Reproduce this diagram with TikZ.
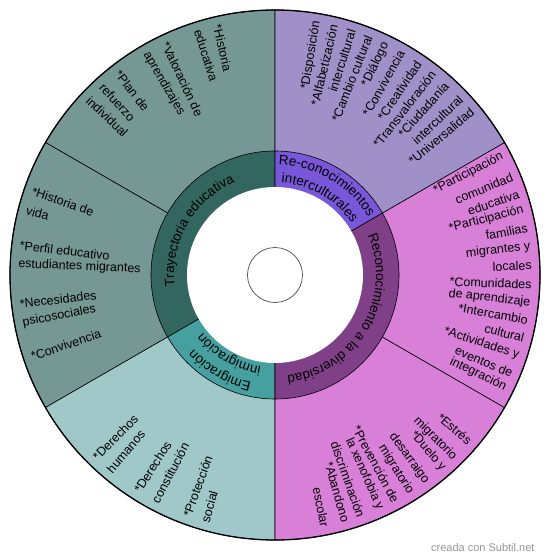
\documentclass[tikz,border=0pt]{standalone}
\usepackage{fontspec}
\setmainfont{Liberation Sans}
\usetikzlibrary{decorations.text}
\definecolor{trayout}{RGB}{118,152,148}
\definecolor{trayin}{RGB}{51,102,94}
\definecolor{emigout}{RGB}{160,200,200}
\definecolor{emigin}{RGB}{70,160,160}
\definecolor{divout}{RGB}{216,128,216}
\definecolor{divin}{RGB}{128,64,136}
\definecolor{intout}{RGB}{160,144,200}
\definecolor{intin}{RGB}{120,88,216}
\definecolor{markgray}{RGB}{150,150,150}

\begin{document}
\begin{tikzpicture}[x=1pt, y=1pt,
  sector/.style={draw=black, line width=0.6pt},
  outl/.style={anchor=west, inner sep=0pt, rotate=#1+180,
               font=\fontsize{12.5}{14}\selectfont},
  outr/.style={anchor=east, inner sep=0pt, rotate=#1,
               font=\fontsize{12.5}{14}\selectfont},
  ringtxt/.style={decorate, decoration={text along path, text align=center,
                  text={|\fontsize{13.5}{16}\selectfont|#1}}}
]

% === canvas ==================================================================
\fill[white] (-275,-285) rectangle (275,275);
\useasboundingbox (-275,-285) rectangle (275,275);

% === outer ring ==============================================================
\draw[sector, fill=trayout] (0,0) -- (90:265)  arc[start angle=90,  end angle=150, radius=265] -- cycle;
\draw[sector, fill=trayout] (0,0) -- (150:265) arc[start angle=150, end angle=210, radius=265] -- cycle;
\draw[sector, fill=emigout] (0,0) -- (210:265) arc[start angle=210, end angle=270, radius=265] -- cycle;
\draw[sector, fill=divout]  (0,0) -- (-90:265) arc[start angle=-90, end angle=-30, radius=265] -- cycle;
\draw[sector, fill=divout]  (0,0) -- (-30:265) arc[start angle=-30, end angle=30,  radius=265] -- cycle;
\draw[sector, fill=intout]  (0,0) -- (30:265)  arc[start angle=30,  end angle=90,  radius=265] -- cycle;
\draw[line width=1.3pt] (0,0) circle (265);

% === inner ring ==============================================================
\draw[sector, fill=trayin] (0,0) -- (90:124)  arc[start angle=90,  end angle=210, radius=124] -- cycle;
\draw[sector, fill=emigin] (0,0) -- (210:124) arc[start angle=210, end angle=270, radius=124] -- cycle;
\draw[sector, fill=divin]  (0,0) -- (-90:124) arc[start angle=-90, end angle=30,  radius=124] -- cycle;
\draw[sector, fill=intin]  (0,0) -- (30:124)  arc[start angle=30,  end angle=90,  radius=124] -- cycle;
\fill[white] (0,0) circle (88);
\draw[draw=black!70, line width=0.7pt, fill=white] (0,0) circle (27.5);

% === ring labels =============================================================
\path[ringtxt={Trayectoria educativa}]          (210:101) arc[start angle=210, end angle=90,  radius=101];
\path[ringtxt={Re-conocimientos}]               (90:110)  arc[start angle=90,  end angle=30,  radius=110];
\path[ringtxt={interculturales}]                (90:92.5) arc[start angle=90,  end angle=30,  radius=92.5];
\path[ringtxt={Reconocimiento a la diversidad}] (30:101)  arc[start angle=30,  end angle=-90, radius=101];
\path[ringtxt={Emigración}]                     (270:110) arc[start angle=270, end angle=210, radius=110];
\path[ringtxt={inmigración}]                    (270:92.5) arc[start angle=270, end angle=210, radius=92.5];

% === Trayectoria educativa, upper sector =====================================
\node[outl=103.0] (A1) at (103.0:257) {*Historia};
\node[outl=107.4] (A2) at (107.4:257) {educativa};
\node[outl=115.3] (A3) at (115.3:257) {*Valoración de};
\node[outl=120.1] (A4) at (120.1:257) {aprendizajes};
\node[outl=127.8] (A5) at (127.8:257) {*Plan de};
\node[outl=132.4] (A6) at (132.4:257) {refuerzo};
\node[outl=136.7] (A7) at (136.7:257) {individual};

% === Trayectoria educativa, lower sector =====================================
\node[outl=160.9] (B1) at (160.9:257) {*Historia de};
\node[outl=165.4] (B2) at (165.4:257) {vida};
\node[outl=173.4] (B3) at (173.4:257) {*Perfil educativo};
\node[outl=177.6] (B4) at (177.6:257) {estudiantes migrantes};
\node[outl=186.4] (B5) at (186.4:257) {*Necesidades};
\node[outl=190.8] (B6) at (190.8:257) {psicosociales};
\node[outl=198.5] (B7) at (198.5:257) {*Convivencia};

% === Emigracion inmigracion ==================================================
\node[outl=225.5] (C1) at (225.5:257) {*Derechos};
\node[outl=229.8] (C2) at (229.8:257) {humanos};
\node[outl=237.5] (C3) at (237.5:257) {*Derechos};
\node[outl=242.1] (C4) at (242.1:257) {constitución};
\node[outl=249.9] (C5) at (249.9:257) {*Protección};
\node[outl=254.2] (C6) at (254.2:257) {social};

% === Reconocimiento a la diversidad, lower sector ============================
\node[outr=-40.6] (D1)  at (-40.6:257) {*Estrés};
\node[outr=-45.6] (D2)  at (-45.6:257) {migratorio};
\node[outr=-49.0] (D3)  at (-49.0:257) {*Duelo y};
\node[outr=-53.8] (D4)  at (-53.8:257) {desarraigo};
\node[outr=-58.1] (D5)  at (-58.1:257) {migratorio};
\node[outr=-61.9] (D6)  at (-61.9:257) {*Prevención de};
\node[outr=-65.8] (D7)  at (-65.8:257) {la xenofobia y};
\node[outr=-70.4] (D8)  at (-70.4:257) {discriminación};
\node[outr=-74.0] (D9)  at (-74.0:257) {*Abandono};
\node[outr=-78.8] (D10) at (-78.8:257) {escolar};

% === Reconocimiento a la diversidad, upper sector ============================
\node[outr=27.7]  (E1)  at (27.7:257)  {*Participación};
\node[outr=22.5]  (E2)  at (22.5:257)  {comunidad};
\node[outr=18.3]  (E3)  at (18.3:257)  {educativa};
\node[outr=14.8]  (E4)  at (14.8:257)  {*Participación};
\node[outr=10.6]  (E5)  at (10.6:257)  {familias};
\node[outr=6.3]   (E6)  at (6.3:257)   {migrantes y};
\node[outr=2.2]   (E7)  at (2.2:257)   {locales};
\node[outr=-2.1]  (E8)  at (-2.1:257)  {*Comunidades};
\node[outr=-6.2]  (E9)  at (-6.2:257)  {de aprendizaje};
\node[outr=-10.1] (E10) at (-10.1:257) {*Intercambio};
\node[outr=-14.2] (E11) at (-14.2:257) {cultural};
\node[outr=-18.3] (E12) at (-18.3:257) {*Actividades y};
\node[outr=-22.5] (E13) at (-22.5:257) {eventos de};
\node[outr=-26.1] (E14) at (-26.1:257) {integración};

% === Re-conocimientos interculturales ========================================
\node[outr=80.7] (F1)  at (80.7:257) {*Disposición};
\node[outr=76.8] (F2)  at (76.8:257) {*Alfabetización};
\node[outr=72.6] (F3)  at (72.6:257) {intercultural};
\node[outr=68.6] (F4)  at (68.6:257) {*Cambio cultural};
\node[outr=64.5] (F5)  at (64.5:257) {*Diálogo};
\node[outr=60.5] (F6)  at (60.5:257) {*Convivencia};
\node[outr=56.0] (F7)  at (56.0:257) {*Creatividad};
\node[outr=52.0] (F8)  at (52.0:257) {*Transvaloración};
\node[outr=48.1] (F9)  at (48.1:257) {*Ciudadanía};
\node[outr=43.6] (F10) at (43.6:257) {intercultural};
\node[outr=39.8] (F11) at (39.8:257) {*Universalidad};

% watermark
\node[anchor=east, text=markgray, font=\fontsize{11}{13}\selectfont] (WM) at (263,-273) {creada con Subtil.net};

\end{tikzpicture}
\end{document}
